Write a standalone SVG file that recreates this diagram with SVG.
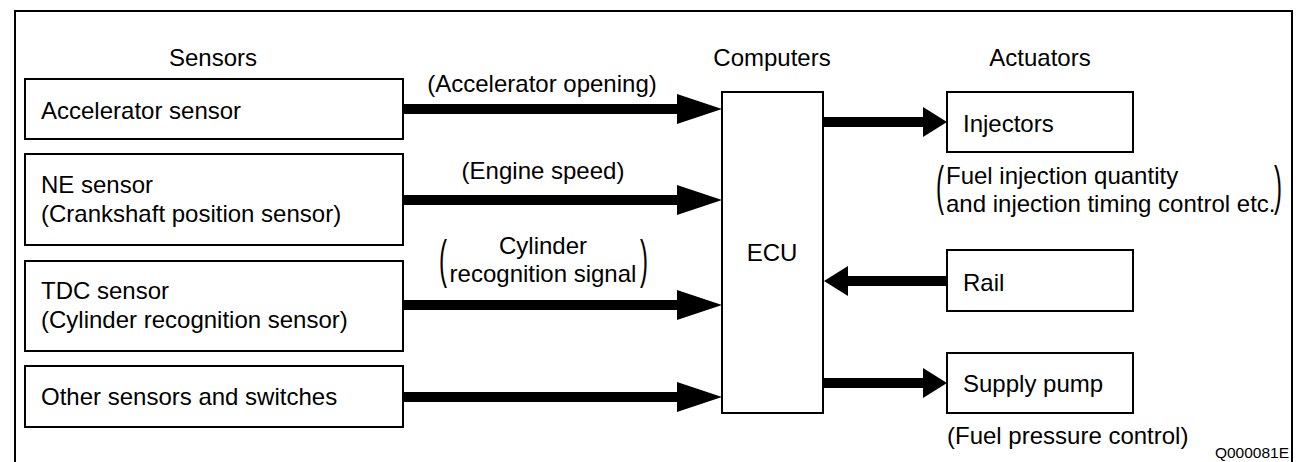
<svg xmlns="http://www.w3.org/2000/svg" width="1298" height="462" viewBox="0 0 1298 462">
<style>
text{font-family:"Liberation Sans",Arial,sans-serif;font-size:24px;fill:#000}
.box{fill:#fff;stroke:#000;stroke-width:2}
.conn{fill:none;stroke:#000;stroke-width:10}
.c{text-anchor:middle}
.small{font-size:15.5px;text-anchor:end}
</style>
<defs>
<marker id="headL" markerUnits="userSpaceOnUse" markerWidth="45" markerHeight="30" refX="0" refY="15" orient="auto"><path d="M0,0 L45,15 L0,30 Z" fill="#000"/></marker>
<marker id="headS" markerUnits="userSpaceOnUse" markerWidth="24" markerHeight="30" refX="0" refY="15" orient="auto"><path d="M0,0 L24,15 L0,30 Z" fill="#000"/></marker>
</defs>
<rect width="1298" height="462" fill="#fff"/>
<path d="M15,470 V11 H1292 V470" fill="none" stroke="#000" stroke-width="2"/>
<g id="headings">
<text class="c" x="213" y="66">Sensors</text>
<text class="c" x="772" y="66">Computers</text>
<text class="c" x="1040" y="66">Actuators</text>
</g>
<g id="connectors">
<path class="conn" d="M403,109 H677" marker-end="url(#headL)"/>
<path class="conn" d="M403,200 H677" marker-end="url(#headL)"/>
<path class="conn" d="M403,305 H677" marker-end="url(#headL)"/>
<path class="conn" d="M403,397 H677" marker-end="url(#headL)"/>
<path class="conn" d="M823,122 H923" marker-end="url(#headS)"/>
<path class="conn" d="M947,281 H848" marker-end="url(#headS)"/>
<path class="conn" d="M823,383 H923" marker-end="url(#headS)"/>
<text class="c" x="542" y="92">(Accelerator opening)</text>
<text class="c" x="543" y="179">(Engine speed)</text>
<text class="c" x="543" y="254">Cylinder</text>
<text class="c" x="543" y="282">recognition signal</text>
<text transform="translate(439,277) scale(1,2.12)">(</text>
<text transform="translate(640,277) scale(1,2.12)">)</text>
</g>
<g id="accelerator-sensor">
<rect class="box" x="25" y="79" width="378" height="60"/>
<text x="41" y="119">Accelerator sensor</text>
</g>
<g id="ne-sensor">
<rect class="box" x="25" y="154" width="378" height="91"/>
<text x="41" y="193">NE sensor</text>
<text x="41" y="222">(Crankshaft position sensor)</text>
</g>
<g id="tdc-sensor">
<rect class="box" x="25" y="261" width="378" height="90"/>
<text x="41" y="299">TDC sensor</text>
<text x="41" y="328">(Cylinder recognition sensor)</text>
</g>
<g id="other-sensors">
<rect class="box" x="25" y="366" width="378" height="61"/>
<text x="41" y="405">Other sensors and switches</text>
</g>
<g id="ecu">
<rect class="box" x="722" y="92" width="101" height="321"/>
<text class="c" x="772" y="261">ECU</text>
</g>
<g id="injectors">
<rect class="box" x="947" y="92" width="186" height="60"/>
<text x="963" y="132">Injectors</text>
<text x="946" y="184">Fuel injection quantity</text>
<text x="946" y="212">and injection timing control etc.</text>
<text transform="translate(936,204) scale(1,2.2)">(</text>
<text transform="translate(1274,204) scale(1,2.2)">)</text>
</g>
<g id="rail">
<rect class="box" x="947" y="250" width="186" height="61"/>
<text x="963" y="291">Rail</text>
</g>
<g id="supply-pump">
<rect class="box" x="947" y="353" width="186" height="60"/>
<text x="963" y="392">Supply pump</text>
<text x="947" y="444">(Fuel pressure control)</text>
</g>
<text class="small" x="1289" y="458">Q000081E</text>
</svg>
